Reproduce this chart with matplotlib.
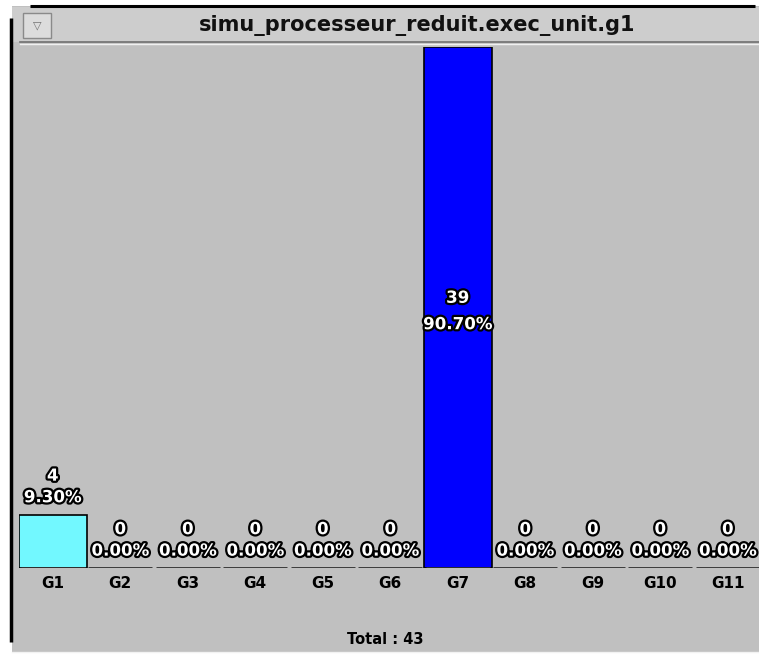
import matplotlib
matplotlib.use("Agg")
import matplotlib.pyplot as plt
import matplotlib.patheffects as pe
from matplotlib.patches import Rectangle

# --- data ---------------------------------------------------------------
titre = "simu_processeur_reduit.exec_unit.g1"
categories = ["G1", "G2", "G3", "G4", "G5", "G6", "G7", "G8", "G9", "G10", "G11"]
valeurs = [4, 0, 0, 0, 0, 0, 39, 0, 0, 0, 0]
couleurs = ["#72f8ff", "#c0c0c0", "#c0c0c0", "#c0c0c0", "#c0c0c0", "#c0c0c0",
            "#0000ff", "#c0c0c0", "#c0c0c0", "#c0c0c0", "#c0c0c0"]

total = sum(valeurs)
W, H = 759, 656
GRIS = "#c0c0c0"

fig = plt.figure(figsize=(W / 100, H / 100), dpi=100)
fig.patch.set_facecolor("white")

# fond de la fenetre (coordonnees en pixels)
bg = fig.add_axes([0, 0, 1, 1])
bg.set_xlim(0, W)
bg.set_ylim(H, 0)
bg.axis("off")
bg.add_patch(Rectangle((12, 6), W, 646, facecolor=GRIS, edgecolor="none"))
bg.add_patch(Rectangle((12, 7), W, 35, facecolor="#cdcdcd", edgecolor="none"))
bg.plot([30, 755], [6, 6], color="black", lw=2.2, solid_capstyle="butt")
bg.plot([11, 11], [18, 642], color="black", lw=2.5, solid_capstyle="butt")
bg.plot([20, W], [42, 42], color="#707070", lw=1.2)
bg.plot([20, W], [44, 44], color="#f0f0f0", lw=1.0)
bg.plot([12, W], [652, 652], color="#f2f2f2", lw=1.0)
# petit bouton du menu
bg.add_patch(Rectangle((23, 13), 28, 25, facecolor="#dcdcdc", edgecolor="#8a8a8a", lw=1))
bg.text(37, 25, "\u25bd", ha="center", va="center", fontsize=8, color="#707070")
bg.text(417, 25, titre, ha="center", va="center", fontsize=15,
        fontweight="bold", color="#111111")
bg.text(385, 640, f"Total : {total}", ha="center", va="center", fontsize=10.5,
        fontweight="bold", color="black")

# --- histogramme --------------------------------------------------------
x0, base, haut, pas = 19, 568, 47, 67.5
ax = fig.add_axes([x0 / W, (H - base) / H, (W - x0) / W, (base - haut) / H])
ax.set_facecolor("none")
ax.set_xlim(-0.5, -0.5 + (W - x0) / pas)
ax.set_ylim(0, max(valeurs))
for s in ax.spines.values():
    s.set_visible(False)
ax.set_yticks([])

pos = list(range(len(categories)))
# trait de base de chaque case (avec un petit jour entre les cases)
ax.hlines([0] * len(pos), [p - 0.475 for p in pos], [p + 0.475 for p in pos],
          color="#303030", lw=2.0)
ax.bar(pos, valeurs, width=1.0, color=couleurs, edgecolor="black",
       linewidth=[1.2 if v else 0 for v in valeurs])

ax.set_xticks(pos)
ax.set_xticklabels(categories, fontsize=11, fontweight="bold")
ax.tick_params(axis="x", length=0, pad=6)

contour = [pe.withStroke(linewidth=3.2, foreground="black")]
for p, v in zip(pos, valeurs):
    pct = f"{100 * v / total:.2f}%"
    if v == max(valeurs):
        y, d1, d2 = v / 2, 7, -12
    else:
        y, d1, d2 = v, 28, 12.5
    for txt, d in ((str(v), d1), (pct, d2)):
        ax.annotate(txt, (p, y), xytext=(0, d), textcoords="offset points",
                    ha="center", va="center", fontsize=12, fontweight="bold",
                    color="white", path_effects=contour, annotation_clip=False)

fig.savefig("out.png", dpi=100, facecolor=fig.get_facecolor())
